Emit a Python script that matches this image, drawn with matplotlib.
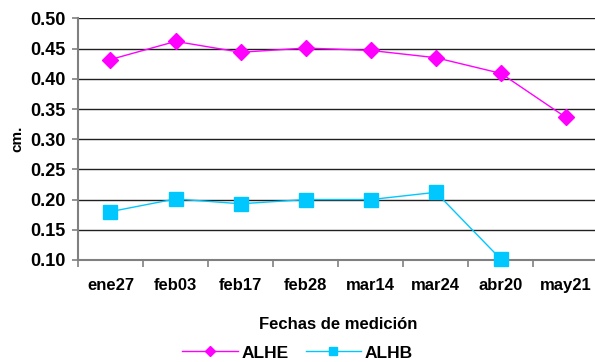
import numpy as np
import matplotlib
matplotlib.use("Agg")
import matplotlib.pyplot as plt

plt.rcParams["font.family"] = ["Liberation Sans", "DejaVu Sans"]
plt.rcParams["font.weight"] = "bold"

# fechas de medicion y valores (cm.)
fechas = ["ene27", "feb03", "feb17", "feb28", "mar14", "mar24", "abr20", "may21"]
alhe = [0.432, 0.462, 0.444, 0.451, 0.447, 0.435, 0.409, 0.336]
alhb = [0.180, 0.201, 0.193, 0.200, 0.200, 0.212, 0.101, np.nan]

x = np.arange(len(fechas))

fig = plt.figure(figsize=(5.95, 3.62), dpi=100)
ax = fig.add_axes([0.131, 0.282, 0.875, 0.667])

ax.plot(x, alhe, color="#FF00FF", lw=1.0, marker="D", markersize=8.5,
        label="ALHE", zorder=3, clip_on=False)
ax.plot(x, alhb, color="#00C8FF", lw=1.0, marker="s", markersize=9.5,
        label="ALHB", zorder=3, clip_on=False)

ax.set_xlim(-0.5, 7.5)
ax.set_ylim(0.10, 0.50)
ax.set_yticks(np.arange(0.10, 0.501, 0.05))
ax.set_yticklabels([f"{v:.2f}" for v in np.arange(0.10, 0.501, 0.05)], fontsize=13)
ax.set_xticks(x)
ax.set_xticklabels(fechas, fontsize=12)
ax.tick_params(axis="x", length=0, pad=13)
ax.set_xticks(np.arange(-0.5, 7.5, 1), minor=True)
ax.tick_params(axis="x", which="minor", length=5, color="#808080", width=1.2)
ax.tick_params(axis="y", length=4, color="#808080", width=1.2, pad=5)

ax.grid(axis="y", color="#202020", lw=1.0)
ax.set_axisbelow(True)
for s in ["top", "right"]:
    ax.spines[s].set_visible(False)
for s in ["left", "bottom"]:
    ax.spines[s].set_color("#808080")
    ax.spines[s].set_linewidth(1.5)

ax.set_xlabel("Fechas de medición", fontsize=12, fontweight="bold", labelpad=17)
ax.set_ylabel("cm.", fontsize=11, fontweight="bold", labelpad=4)

fig.legend(loc="center", bbox_to_anchor=(0.5, 0.025), ncol=2, frameon=False,
           fontsize=12.5, markerscale=0.6, handlelength=3.2, columnspacing=1.0,
           handletextpad=0.2)

fig.savefig("out.png", dpi=100)
